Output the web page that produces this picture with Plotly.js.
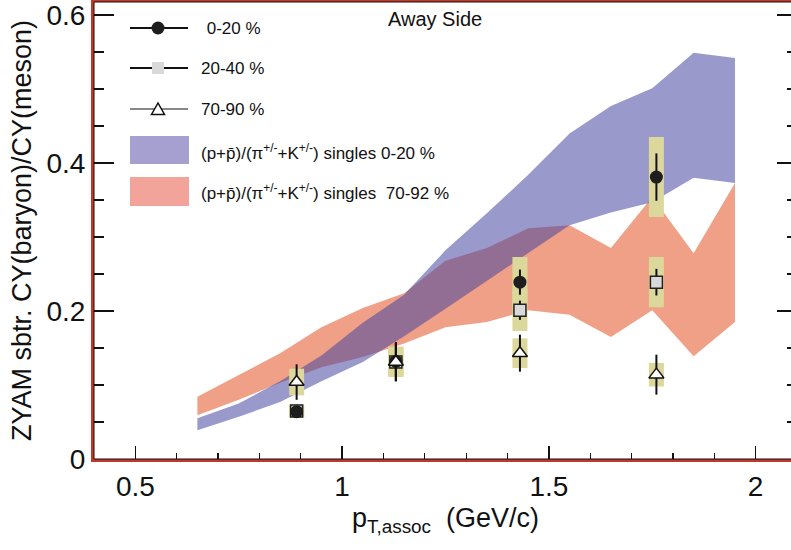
<!DOCTYPE html>
<html><head><meta charset="utf-8">
<script src="https://cdn.plot.ly/plotly-3.0.1.min.js"></script>
<style>html,body{margin:0;padding:0;overflow:hidden;background:#fff}</style>
</head><body><div id="chart" style="width:797px;height:550px"></div>
<script>
// ---- band data: (p+pbar)/(pi+K) singles ----
const bandX = [0.65, 0.75, 0.85, 0.95, 1.05, 1.15, 1.25, 1.35, 1.45, 1.55, 1.65, 1.75, 1.85, 1.95];
const central_upper = [0.055, 0.075, 0.105, 0.140, 0.184, 0.222, 0.282, 0.332, 0.384, 0.440, 0.477, 0.501, 0.549, 0.542];
const central_lower = [0.039, 0.057, 0.077, 0.105, 0.131, 0.166, 0.203, 0.240, 0.278, 0.316, 0.333, 0.347, 0.380, 0.373];
const periph_upper  = [0.084, 0.113, 0.143, 0.178, 0.204, 0.224, 0.268, 0.285, 0.312, 0.316, 0.285, 0.354, 0.278, 0.373];
const periph_lower  = [0.059, 0.080, 0.103, 0.124, 0.138, 0.156, 0.178, 0.185, 0.201, 0.195, 0.165, 0.201, 0.139, 0.185];

// ---- points: ZYAM subtracted CY ratio ----
const ptX = [0.89, 1.13, 1.43, 1.76];
const y0_20   = [0.064, 0.132, 0.239, 0.381];
const stat0_20 = [0.003, 0.026, 0.017, 0.032];
const sys0_20  = [0.008, 0.020, 0.034, 0.054];
const y20_40   = [0.065, 0.131, 0.201, 0.239];
const stat20_40 = [0.003, 0.026, 0.013, 0.018];
const sys20_40  = [0.009, 0.020, 0.028, 0.034];
const y70_90   = [0.104, 0.131, 0.143, 0.114];
const stat70_90 = [0.024, 0.026, 0.025, 0.027];
const sys70_90  = [0.018, 0.020, 0.020, 0.016];

const legendLabels = ['0-20 %', '20-40 %', '70-90 %',
  '(p+p\u0304)/(\u03c0<sup>+/-</sup>+K<sup>+/-</sup>) singles 0-20 %',
  '(p+p\u0304)/(\u03c0<sup>+/-</sup>+K<sup>+/-</sup>) singles  70-92 %'];

const FONT = 'Liberation Sans, Arial, sans-serif';
const SYS_COLOR = '#dcd79a';

function band(up, lo, color) {
  return {x: bandX.concat(bandX.slice().reverse()),
          y: up.concat(lo.slice().reverse()),
          type: 'scatter', mode: 'lines', fill: 'toself', fillcolor: color,
          line: {width: 0}, hoverinfo: 'skip', showlegend: false};
}
function sysTrace(y, sys) {
  return {x: ptX, y: y, type: 'scatter', mode: 'markers',
          marker: {size: 1, color: 'rgba(0,0,0,0)'},
          error_y: {type: 'data', array: sys, visible: true, thickness: 15, width: 0, color: SYS_COLOR},
          showlegend: false, hoverinfo: 'skip'};
}
function ptTrace(y, stat, marker) {
  return {x: ptX, y: y, type: 'scatter', mode: 'markers', marker: marker,
          error_y: {type: 'data', array: stat, visible: true, thickness: 2, width: 0, color: '#111'},
          showlegend: false};
}

const data = [
  band(periph_upper, periph_lower, 'rgb(240,160,134)'),
  band(central_upper, central_lower, 'rgba(70,70,162,0.55)'),
  sysTrace(y0_20, sys0_20), sysTrace(y20_40, sys20_40), sysTrace(y70_90, sys70_90),
  ptTrace(y20_40, stat20_40, {symbol: 'square', size: 12, color: '#d9d9d9', line: {color: '#222', width: 1.5}}),
  ptTrace(y0_20, stat0_20, {symbol: 'circle', size: 13, color: '#1e1e1e', line: {width: 0}}),
  ptTrace(y70_90, stat70_90, {symbol: 'triangle-up', size: 13, color: '#fff', line: {color: '#111', width: 1.5}})
];

// pixel -> paper helpers for legend decoration
const L = 94, W = 703, T = 2, H = 457;
const PX = p => (p - L) / W;
const PY = p => (T + H - p) / H;

const shapes = [
  {type: 'line', xref: 'paper', yref: 'paper', x0: PX(130), x1: PX(188), y0: PY(28), y1: PY(28), line: {color: '#111', width: 2}},
  {type: 'circle', xref: 'paper', yref: 'paper', xsizemode: 'pixel', ysizemode: 'pixel', xanchor: PX(158), yanchor: PY(28),
   x0: -6.5, x1: 6.5, y0: -6.5, y1: 6.5, fillcolor: '#1e1e1e', line: {width: 0}},
  {type: 'line', xref: 'paper', yref: 'paper', x0: PX(130), x1: PX(188), y0: PY(68), y1: PY(68), line: {color: '#111', width: 2}},
  {type: 'rect', xref: 'paper', yref: 'paper', xsizemode: 'pixel', ysizemode: 'pixel', xanchor: PX(158), yanchor: PY(68),
   x0: -6, x1: 6, y0: -6, y1: 6, fillcolor: '#d9d9d9', line: {width: 0}},
  {type: 'line', xref: 'paper', yref: 'paper', x0: PX(130), x1: PX(188), y0: PY(109), y1: PY(109), line: {color: '#111', width: 1}},
  {type: 'path', xref: 'paper', yref: 'paper', xsizemode: 'pixel', ysizemode: 'pixel', xanchor: PX(158), yanchor: PY(109),
   path: 'M -6.5 -5.5 L 6.5 -5.5 L 0 6 Z', fillcolor: '#fff', line: {color: '#111', width: 1.5}},
  {type: 'rect', xref: 'paper', yref: 'paper', x0: PX(130), x1: PX(189), y0: PY(164), y1: PY(136), fillcolor: '#a5a0cf', line: {width: 0}},
  {type: 'rect', xref: 'paper', yref: 'paper', x0: PX(130), x1: PX(189), y0: PY(206), y1: PY(177), fillcolor: '#f2a49b', line: {width: 0}},
  {type: 'rect', xref: 'paper', yref: 'paper', x0: 0, x1: 1, y0: 0, y1: 1, line: {color: '#111', width: 1}, layer: 'above'}
];

const ann = (txt, px, py, sz) => ({text: txt, xref: 'paper', yref: 'paper', x: PX(px), y: PY(py),
  xanchor: 'left', yanchor: 'middle', showarrow: false, font: {family: FONT, size: sz || 17, color: '#111'}});
const annotations = [
  ann(' ' + legendLabels[0], 200, 28),
  ann(legendLabels[1], 199, 68),
  ann(legendLabels[2], 199, 109),
  ann(legendLabels[3], 199, 152),
  ann(legendLabels[4], 199, 192),
  ann('Away Side', 386, 19, 20)
];

const layout = {
  width: 797, height: 550, autosize: false,
  margin: {l: L, r: 0, t: T, b: 550 - T - H},
  paper_bgcolor: '#fff', plot_bgcolor: '#fff',
  font: {family: FONT, color: '#111'},
  showlegend: false,
  xaxis: {
    range: [0.4, 2.1], showgrid: false, zeroline: false,
    ticks: 'inside', ticklen: 13, tickwidth: 1.5, tickcolor: '#111',
    tickmode: 'linear', tick0: 0.5, dtick: 0.5,
    minor: {ticks: 'inside', ticklen: 6, tickwidth: 1.2, tickcolor: '#111', dtick: 0.1, tick0: 0, showgrid: false},
    showline: true, linecolor: '#c0392b', linewidth: 3, mirror: true,
    ticklabeloverflow: 'allow',
    tickfont: {family: FONT, size: 28, color: '#111'},
    title: {text: 'p<sub>T,assoc</sub>  (GeV/c)', font: {family: FONT, size: 27, color: '#111'}, standoff: 8},
    automargin: false
  },
  yaxis: {
    range: [0, 0.6176], showgrid: false, zeroline: false,
    ticks: 'inside', ticklen: 20, tickwidth: 1.5, tickcolor: '#111',
    tickmode: 'array', tickvals: [0, 0.2, 0.4, 0.6], ticktext: ['0', '0.2', '0.4', '0.6'],
    minor: {ticks: 'inside', ticklen: 10, tickwidth: 1.2, tickcolor: '#111', dtick: 0.05, tick0: 0, showgrid: false},
    showline: true, linecolor: '#c0392b', linewidth: 3, mirror: 'ticks',
    ticklabeloverflow: 'allow',
    tickfont: {family: FONT, size: 28, color: '#111'},
    title: {text: 'ZYAM sbtr. CY(baryon)/CY(meson)', font: {family: FONT, size: 27, color: '#111'}, standoff: 8},
    automargin: false
  },
  shapes: shapes,
  annotations: annotations
};

Plotly.newPlot('chart', data, layout, {displayModeBar: false, staticPlot: true});
</script></body></html>
